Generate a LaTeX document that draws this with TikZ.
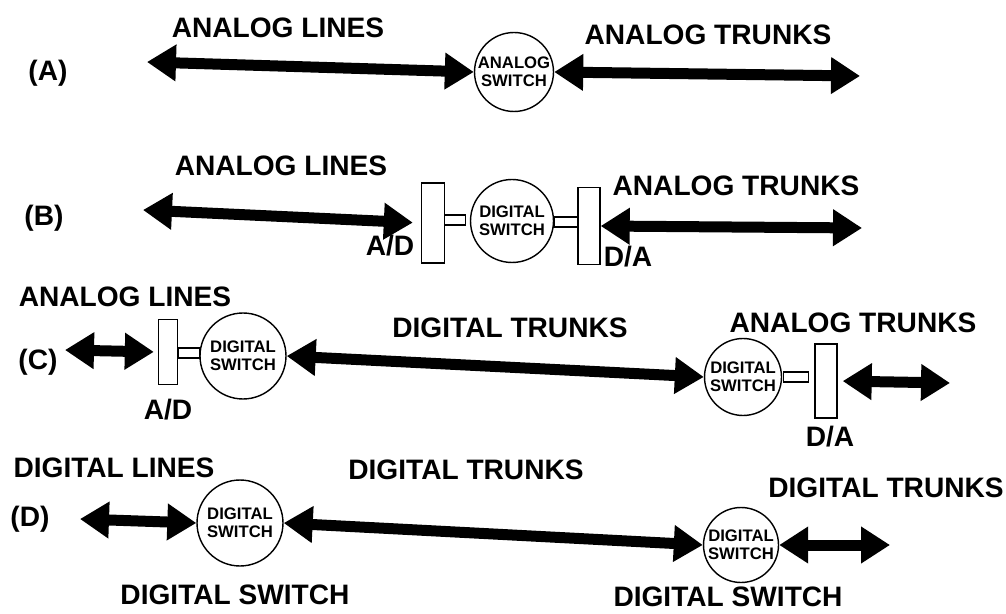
\documentclass[tikz,border=0pt]{standalone}
\usepackage{fontspec}
\setmainfont{Liberation Sans}
\usetikzlibrary{arrows.meta,positioning}
\tikzset{
  swc/.style={circle, draw, thick, inner sep=0pt, align=center,
    font=\fontsize{9.5}{10}\selectfont\bfseries},
  conv/.style={draw, thick, minimum width=0.46cm, minimum height=1.6cm, inner sep=0pt},
  lnk/.style={draw, thick, minimum width=0.42cm, minimum height=0.2cm, inner sep=0pt},
  barr/.style={{Triangle[width=0.7cm,length=0.58cm]}-{Triangle[width=0.7cm,length=0.58cm]},
    line width=0.22cm},
  lbl/.style={font=\fontsize{16}{18}\selectfont\bfseries, inner sep=0pt},
}
\begin{document}
\begin{tikzpicture}[x=0.02cm, y=-0.02cm]
\useasboundingbox (0,0) rectangle (1006,614);
% (A) analog lines, analog switch, analog trunks
\node[lbl] (tagA) at (48,73) {(A)};
\node[lbl] (linA) at (278,28) {ANALOG LINES};
\node[lbl] (trkA) at (708,35) {ANALOG TRUNKS};
\node[swc, minimum size=1.58cm] (swA) at (514,72) {ANALOG\\SWITCH};
\coordinate (aL) at (147,62);
\coordinate (aR) at (860,76);
\draw[barr] (aL) -- (swA.west);
\draw[barr] (swA.east) -- (aR);
% (B) analog lines into a digital switch
\node[lbl] (tagB) at (44,218) {(B)};
\node[lbl] (linB) at (281,166) {ANALOG LINES};
\node[lbl] (trkB) at (736,186) {ANALOG TRUNKS};
\node[swc, minimum size=1.66cm] (swB) at (512,221) {DIGITAL\\SWITCH};
\node[conv] (adB) at (433,223) {};
\node[conv, minimum width=0.44cm, minimum height=1.54cm] (daB) at (589,226) {};
\node[lnk] at (455,220) {};
\node[lnk, minimum width=0.48cm] at (566,222) {};
\node[lbl] (adBt) at (390,246) {A/D};
\node[lbl] (daBt) at (628,257) {D/A};
\coordinate (bL) at (143,210);
\coordinate (bR) at (862,228);
\draw[barr, shorten >=0.16cm] (bL) -- (adB.west);
\draw[barr] (daB.east) -- (bR);
% (C) digital trunks between two digital switches
\node[lbl] (tagC) at (38,362) {(C)};
\node[lbl] (linC) at (125,297) {ANALOG LINES};
\node[lbl] (trkC1) at (510,328) {DIGITAL TRUNKS};
\node[lbl] (trkC2) at (853,323) {ANALOG TRUNKS};
\node[swc, minimum size=1.72cm] (swC1) at (243,356) {DIGITAL\\SWITCH};
\node[swc, minimum size=1.54cm] (swC2) at (743,377) {DIGITAL\\SWITCH};
\node[conv, minimum width=0.38cm, minimum height=1.3cm] (adC) at (168,352) {};
\node[conv, minimum width=0.44cm, minimum height=1.48cm] (daC) at (826,381) {};
\node[lnk] at (189,353) {};
\node[lnk, minimum width=0.5cm] at (796,377) {};
\node[lbl] (adCt) at (168,410) {A/D};
\node[lbl] (daCt) at (830,437) {D/A};
\coordinate (cL) at (65,350);
\coordinate (cR) at (950,383);
\draw[barr, shorten >=0.08cm] (cL) -- (adC.west);
\draw[barr] (swC1.east) -- (swC2.west);
\draw[barr, shorten <=0.1cm] (daC.east) -- (cR);
% (D) all digital
\node[lbl] (tagD) at (30,519) {(D)};
\node[lbl] (linD) at (114,468) {DIGITAL LINES};
\node[lbl] (trkD1) at (466,470) {DIGITAL TRUNKS};
\node[lbl] (trkD2) at (886,488) {DIGITAL TRUNKS};
\node[swc, minimum size=1.72cm] (swD1) at (240,523) {DIGITAL\\SWITCH};
\node[swc, minimum size=1.5cm] (swD2) at (741,545) {DIGITAL\\SWITCH};
\node[lbl] (swD1t) at (235,595) {DIGITAL SWITCH};
\node[lbl] (swD2t) at (728,597) {DIGITAL SWITCH};
\coordinate (dL) at (80,519);
\coordinate (dR) at (890,545);
\draw[barr] (dL) -- (swD1.west);
\draw[barr] (swD1.east) -- (swD2.west);
\draw[barr] (swD2.east) -- (dR);
\end{tikzpicture}
\end{document}
